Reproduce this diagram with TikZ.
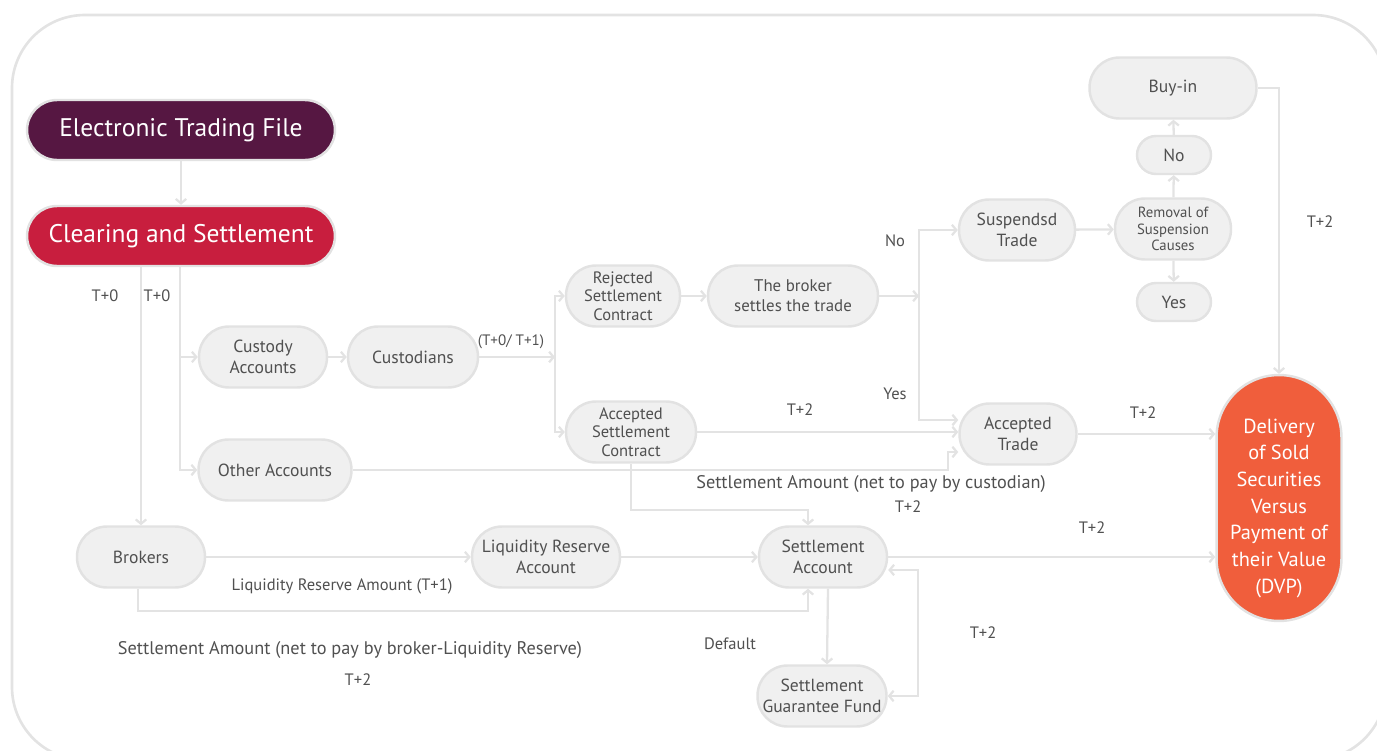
\documentclass[tikz,border=0pt]{standalone}
\usepackage{fontspec}
\setmainfont{PT Sans}
\usepackage{tikz}
\usetikzlibrary{arrows.meta}
\definecolor{etfpurple}{HTML}{561742}
\definecolor{csred}{HTML}{C81E3E}
\definecolor{dvporange}{HTML}{F05E3C}
\definecolor{boxfill}{HTML}{F0F0F0}
\definecolor{boxline}{HTML}{E2E2E2}
\definecolor{linegray}{HTML}{E3E3E3}
\definecolor{txtgray}{HTML}{505050}

\begin{document}
\begin{tikzpicture}[x=0.02cm,y=-0.02cm,
  box/.style={draw=boxline,line width=1.4pt,fill=boxfill,text=txtgray,rounded corners=0.6cm,minimum height=1.22cm,align=center,inner sep=1pt,font=\fontsize{10}{12}\selectfont},
  bigbox/.style={box,text=white,minimum width=6.16cm,minimum height=1.2cm,font=\fontsize{14.5}{16}\selectfont},
  threeline/.style={box,font=\fontsize{9.4}{10.6}\selectfont},
  smallbox/.style={box,minimum height=0.76cm,rounded corners=0.38cm,minimum width=1.48cm},
  link/.style={draw=linegray,line width=1.3pt},
  arr/.style={link,-{Straight Barb[length=2.5pt,width=6pt]}},
  lbl/.style={text=txtgray,inner sep=0pt,font=\fontsize{9.4}{11}\selectfont},
  widelbl/.style={lbl,font=\fontsize{10.4}{12}\selectfont}]
\useasboundingbox (0,0) rectangle (1377,751);

%frame
\draw[draw=linegray,line width=1.5pt,rounded corners=1.46cm] (12,15) rectangle (1386,760);

%nodes
\node[bigbox,fill=etfpurple] (etf) at (181,130) {Electronic Trading File};
\node[bigbox,fill=csred] (cs) at (181,236) {Clearing and Settlement};

\node[box,minimum width=2.56cm] (ca) at (263,357) {Custody\\Accounts};
\node[box,minimum width=2.6cm] (cust) at (413,357) {Custodians};
\node[box,minimum width=3.06cm] (oa) at (275,470) {Other Accounts};

\node[threeline,minimum width=2.28cm] (rsc) at (623,296) {Rejected\\Settlement\\Contract};
\node[box,minimum width=3.4cm,font=\fontsize{9.6}{11.5}\selectfont] (bst) at (793,296) {The broker\\settles the trade};
\node[threeline,minimum width=2.6cm] (asc) at (631,432) {Accepted\\Settlement\\Contract};

\node[box,minimum width=2.32cm] (st) at (1017,230) {Suspendsd\\Trade};
\node[box,minimum width=2.32cm,font=\fontsize{8.4}{9.2}\selectfont] (rsca) at (1173,229) {Removal of\\Suspension\\Causes};
\node[smallbox] (nob) at (1174,155) {No};
\node[smallbox] (yesb) at (1174,302) {Yes};
\node[box,minimum width=3.34cm] (buy) at (1173,88) {Buy-in};
\node[box,minimum width=2.34cm] (at) at (1018,434) {Accepted\\Trade};

\node[box,fill=dvporange,text=white,minimum width=2.5cm,minimum height=4.92cm,rounded corners=1.25cm,
  font=\fontsize{11.6}{15.2}\selectfont] (dvp) at (1279,498)
  {\rule{0pt}{0.7cm}Delivery\\of Sold\\Securities\\Versus\\Payment of\\their Value\\(DVP)};

\node[box,minimum width=2.56cm] (brk) at (141,557) {Brokers};
\node[box,minimum width=2.96cm] (lra) at (546,557) {Liquidity Reserve\\Account};
\node[box,minimum width=2.56cm] (sa) at (823,557) {Settlement\\Account};
\node[box,minimum width=2.58cm] (sgf) at (822,696) {Settlement\\Guarantee Fund};

%junctions
\coordinate (v1) at (180,300);
\coordinate (v2) at (555,357);
\coordinate (v3) at (919,296);
\coordinate (v4) at (948,472);
\coordinate (v5) at (918,630);
\coordinate (h1) at (700,510);
\coordinate (h2) at (500,611);

%edges
\draw[arr] (etf) -- (cs);
\draw[arr] (cs.south -| brk.north) -- (brk.north);
\draw[arr] (cs.south -| v1) |- (oa.west);
\draw[arr] (v1 |- ca.west) -- (ca.west);
\draw[arr] (ca) -- (cust);
\draw[arr] (cust.east) -- (v2);
\draw[arr] (v2) |- (rsc.west);
\draw[arr] (v2) |- (asc.west);
\draw[arr] (rsc) -- (bst);
\draw[arr] (bst.east) -- (v3);
\draw[arr] (v3) |- (st.west);
\draw[arr] (v3) |- ([yshift=0.28cm]at.west);
\draw[arr] (st) -- (rsca);
\draw[arr] (rsca) -- (nob);
\draw[arr] (nob) -- (buy);
\draw[arr] (rsca) -- (yesb);
\draw[arr] (buy.east) -| (dvp.north);
\draw[arr] (asc.east) -- (asc.east -| at.west);
\draw[arr] (oa.east) -- (oa.east -| v4) |- ([yshift=-0.36cm]at.west);
\draw[arr] (at.east) -- (at.east -| dvp.west);
\draw[arr] (asc.south) -- (asc.south |- h1) -| ([xshift=-0.3cm]sa.north);
\draw[arr] (brk) -- (lra);
\draw[arr] (lra) -- (sa);
\draw[arr] ([xshift=-0.06cm]brk.south) -- ([xshift=-0.06cm]brk.south |- h2) -| ([xshift=-0.3cm]sa.south);
\draw[arr] (sa.east) -- (sa.east -| dvp.west);
\draw[arr] ([xshift=0.1cm]sa.south) -- ([xshift=0.1cm]sgf.north);
\draw[link,{Straight Barb[length=2.5pt,width=6pt]}-{Straight Barb[length=2.5pt,width=6pt]}]
  ([yshift=-0.26cm]sa.east) -| (v5) |- (sgf.east);

%labels
\foreach \x/\y/\t [count=\i] in {105/296/T+0, 157/296/T+0, 895/241/No, 895/394/Yes,
  1320/222/T+2, 800/410/T+2, 1143/413/T+2, 908/507/T+2, 1092/528/T+2, 983/633/T+2,
  358/680/T+2, 730/644/Default, 342/586/Liquidity Reserve Amount (T+1)}
  \node[lbl] (lab\i) at (\x,\y) {\t};
\node[widelbl] (labcust) at (871,484) {Settlement Amount (net to pay by custodian)};
\node[widelbl] (labbrk) at (350,650) {Settlement Amount (net to pay by broker-Liquidity Reserve)};
\node[lbl,font=\fontsize{8.6}{10}\selectfont] (labtt) at (511,342) {(T+0/ T+1)};
\end{tikzpicture}
\end{document}
